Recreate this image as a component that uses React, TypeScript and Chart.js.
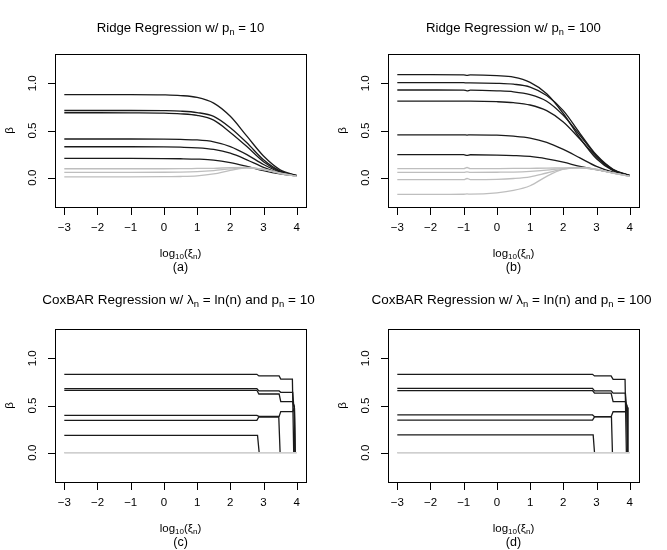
import React, { useEffect, useRef } from "react";
import { Chart, registerables } from "chart.js";

Chart.register(...registerables);

// ---------- axes ----------
const xTickValues = [-3, -2, -1, 0, 1, 2, 3, 4];
const yTickValues = [0, 0.5, 1.0];
const xLimits = [-3.28, 4.28];
const yLimits = [-0.31, 1.31];

// ---------- (a) Ridge, p = 10 ----------
const ridge10X = [-3, -2, -1, 0, 0.5, 1, 1.5, 2, 2.5, 3, 3.5, 4];
const r10b1 = [0.88, 0.88, 0.88, 0.877, 0.87, 0.85, 0.79, 0.65, 0.44, 0.23, 0.085, 0.025];
const r10b2 = [0.712, 0.712, 0.712, 0.71, 0.705, 0.69, 0.65, 0.53, 0.37, 0.19, 0.072, 0.022];
const r10b3 = [0.688, 0.688, 0.687, 0.684, 0.677, 0.66, 0.61, 0.48, 0.33, 0.17, 0.065, 0.02];
const r10b4 = [0.41, 0.41, 0.41, 0.408, 0.405, 0.4, 0.38, 0.33, 0.245, 0.14, 0.06, 0.022];
const r10b5 = [0.328, 0.328, 0.328, 0.326, 0.323, 0.317, 0.3, 0.26, 0.19, 0.11, 0.05, 0.02];
const r10b6 = [0.204, 0.204, 0.204, 0.203, 0.201, 0.197, 0.187, 0.16, 0.12, 0.075, 0.04, 0.018];
const r10g1 = [0.095, 0.095, 0.095, 0.095, 0.096, 0.098, 0.1, 0.106, 0.108, 0.085, 0.045, 0.015];
const r10g2 = [0.057, 0.057, 0.057, 0.058, 0.06, 0.065, 0.076, 0.093, 0.105, 0.087, 0.046, 0.015];
const r10g3 = [0.01, 0.01, 0.01, 0.011, 0.013, 0.02, 0.04, 0.078, 0.105, 0.09, 0.05, 0.015];

// ---------- (b) Ridge, p = 100 ----------
const ridge100X = [-3, -2, -1, -0.9, -0.8, 0, 0.5, 1, 1.5, 2, 2.5, 3, 3.5, 4];
const r100b1 = [1.092, 1.092, 1.09, 1.083, 1.089, 1.08, 1.065, 1.01, 0.89, 0.68, 0.42, 0.2, 0.075, 0.022];
const r100b2 = [1.007, 1.007, 1.006, 1.004, 1.005, 1.0, 0.99, 0.96, 0.87, 0.71, 0.47, 0.24, 0.09, 0.024];
const r100b3 = [0.929, 0.929, 0.928, 0.92, 0.927, 0.92, 0.91, 0.88, 0.81, 0.66, 0.45, 0.23, 0.085, 0.023];
const r100b4 = [0.812, 0.812, 0.811, 0.81, 0.81, 0.805, 0.795, 0.77, 0.71, 0.59, 0.41, 0.22, 0.08, 0.022];
const r100b5 = [0.454, 0.454, 0.454, 0.452, 0.454, 0.45, 0.44, 0.42, 0.375, 0.3, 0.21, 0.12, 0.058, 0.02];
const r100b6 = [0.244, 0.244, 0.244, 0.236, 0.243, 0.24, 0.235, 0.225, 0.2, 0.165, 0.12, 0.085, 0.052, 0.02];
const r100g1 = [0.096, 0.096, 0.096, 0.108, 0.096, 0.097, 0.098, 0.1, 0.101, 0.105, 0.106, 0.085, 0.05, 0.015];
const r100g2 = [0.057, 0.057, 0.057, 0.062, 0.057, 0.058, 0.06, 0.067, 0.08, 0.097, 0.105, 0.086, 0.05, 0.015];
const r100g3 = [-0.021, -0.021, -0.021, -0.008, -0.02, -0.017, -0.008, 0.01, 0.05, 0.09, 0.105, 0.088, 0.05, 0.015];
const r100g4 = [-0.177, -0.177, -0.175, -0.172, -0.174, -0.16, -0.135, -0.085, 0.015, 0.09, 0.11, 0.09, 0.05, 0.015];

// ---------- (c) CoxBAR, p = 10 ----------
const c10l1x = [-3, 2.8, 2.86, 3.47, 3.52, 3.87, 3.91];
const c10l1y = [0.83, 0.83, 0.813, 0.813, 0.78, 0.78, 0];
const c10l2x = [-3, 2.8, 2.86, 3.47, 3.52, 3.88, 3.91, 3.93, 3.95];
const c10l2y = [0.678, 0.678, 0.654, 0.654, 0.64, 0.64, 0.5, 0.48, 0];
const c10l3x = [-3, 2.8, 2.86, 3.47, 3.52, 3.88, 3.91, 3.93, 3.95];
const c10l3y = [0.661, 0.661, 0.622, 0.622, 0.54, 0.54, 0.5, 0.48, 0];
const c10l4x = [-3, 2.8, 2.86, 3.47, 3.52, 3.88, 3.91, 3.93, 3.95];
const c10l4y = [0.396, 0.396, 0.385, 0.385, 0.435, 0.435, 0.46, 0.48, 0];
const c10l5x = [-3, 2.8, 2.86, 3.46, 3.5];
const c10l5y = [0.343, 0.343, 0.378, 0.378, 0];
const c10l6x = [-3, 2.82, 2.87];
const c10l6y = [0.184, 0.184, 0];
const c10zeroX = [-3, 4];
const c10zeroY = [0, 0];

// ---------- (d) CoxBAR, p = 100 ----------
const c100l1x = [-3, 2.88, 2.94, 3.44, 3.5, 3.86, 3.9];
const c100l1y = [0.83, 0.83, 0.813, 0.813, 0.777, 0.777, 0];
const c100l2x = [-3, 2.88, 2.94, 3.44, 3.5, 3.87, 3.9, 3.92, 3.94];
const c100l2y = [0.682, 0.682, 0.655, 0.655, 0.63, 0.63, 0.5, 0.48, 0];
const c100l3x = [-3, 2.88, 2.94, 3.44, 3.5, 3.87, 3.9, 3.92, 3.94];
const c100l3y = [0.657, 0.657, 0.63, 0.63, 0.54, 0.54, 0.5, 0.48, 0];
const c100l4x = [-3, 2.88, 2.94, 3.44, 3.5, 3.87, 3.9, 3.92, 3.94];
const c100l4y = [0.4, 0.4, 0.382, 0.382, 0.434, 0.434, 0.46, 0.48, 0];
const c100l5x = [-3, 2.88, 2.94, 3.45, 3.48];
const c100l5y = [0.346, 0.346, 0.38, 0.38, 0];
const c100l6x = [-3, 2.9, 2.94];
const c100l6y = [0.188, 0.188, 0];
const c100zeroX = [-3, 4];
const c100zeroY = [0, 0];

// ---------- text ----------
type Part = [string, boolean];
const titleA: Part[] = [["Ridge Regression w/ p", false], ["n", true], [" = 10", false]];
const titleB: Part[] = [["Ridge Regression w/ p", false], ["n", true], [" = 100", false]];
const titleC: Part[] = [
  ["CoxBAR Regression w/ \u03bb", false], ["n", true], [" = ln(n) and p", false], ["n", true], [" = 10", false],
];
const titleD: Part[] = [
  ["CoxBAR Regression w/ \u03bb", false], ["n", true], [" = ln(n) and p", false], ["n", true], [" = 100", false],
];
const xLabel: Part[] = [["log", false], ["10", true], ["(\u03be", false], ["n", true], [")", false]];
const yLabel = "\u03b2";

const FONT = "'Liberation Sans', Arial, Helvetica, sans-serif";
const BLACK = "#1a1a1a";
const GRAY = "#bebebe";
const GRAY0 = "#cfcfcf";

type Line = { x: number[]; y: number[]; gray: boolean };
type Panel = { title: Part[]; titleBase: number; titleSize: number; titleShift: number; tag: string; smooth: boolean; lines: Line[] };

const zip = (x: number[], y: number[], gray: boolean): Line => ({ x, y, gray });

const panels: Panel[] = [
  {
    title: titleA, titleBase: 31.5, titleSize: 13.2, titleShift: 0, tag: "(a)", smooth: true,
    lines: [
      zip(ridge10X, r10g1, true), zip(ridge10X, r10g2, true), zip(ridge10X, r10g3, true),
      zip(ridge10X, r10b1, false), zip(ridge10X, r10b2, false), zip(ridge10X, r10b3, false),
      zip(ridge10X, r10b4, false), zip(ridge10X, r10b5, false), zip(ridge10X, r10b6, false),
    ],
  },
  {
    title: titleB, titleBase: 31.5, titleSize: 13.2, titleShift: 0, tag: "(b)", smooth: true,
    lines: [
      zip(ridge100X, r100g1, true), zip(ridge100X, r100g2, true), zip(ridge100X, r100g3, true), zip(ridge100X, r100g4, true),
      zip(ridge100X, r100b1, false), zip(ridge100X, r100b2, false), zip(ridge100X, r100b3, false),
      zip(ridge100X, r100b4, false), zip(ridge100X, r100b5, false), zip(ridge100X, r100b6, false),
    ],
  },
  {
    title: titleC, titleBase: 29, titleSize: 13.5, titleShift: -2, tag: "(c)", smooth: false,
    lines: [
      zip(c10zeroX, c10zeroY, true), zip(c10zeroX, c10zeroY, true), zip(c10zeroX, c10zeroY, true), zip(c10zeroX, c10zeroY, true),
      zip(c10l1x, c10l1y, false), zip(c10l2x, c10l2y, false), zip(c10l3x, c10l3y, false),
      zip(c10l4x, c10l4y, false), zip(c10l5x, c10l5y, false), zip(c10l6x, c10l6y, false),
    ],
  },
  {
    title: titleD, titleBase: 29, titleSize: 13.5, titleShift: -2, tag: "(d)", smooth: false,
    lines: [
      zip(c100zeroX, c100zeroY, true), zip(c100zeroX, c100zeroY, true), zip(c100zeroX, c100zeroY, true), zip(c100zeroX, c100zeroY, true),
      zip(c100l1x, c100l1y, false), zip(c100l2x, c100l2y, false), zip(c100l3x, c100l3y, false),
      zip(c100l4x, c100l4y, false), zip(c100l5x, c100l5y, false), zip(c100l6x, c100l6y, false),
    ],
  },
];

function drawRich(ctx: CanvasRenderingContext2D, parts: Part[], cx: number, base: number, size: number) {
  const sub = size * 0.7;
  const widths = parts.map(([t, s]) => {
    ctx.font = `${s ? sub : size}px ${FONT}`;
    return ctx.measureText(t).width;
  });
  const total = widths.reduce((a, b) => a + b, 0);
  let x = cx - total / 2;
  ctx.textAlign = "left";
  ctx.textBaseline = "alphabetic";
  parts.forEach(([t, s], i) => {
    ctx.font = `${s ? sub : size}px ${FONT}`;
    ctx.fillText(t, x, base + (s ? size * 0.24 : 0));
    x += widths[i];
  });
}

function PanelChart({ panel }: { panel: Panel }) {
  const ref = useRef<HTMLCanvasElement | null>(null);
  useEffect(() => {
    if (!ref.current) return;
    const decor = {
      id: "decor",
      afterDraw(chart: any) {
        const { ctx, chartArea: a } = chart;
        const xs = chart.scales.x;
        const ys = chart.scales.y;
        ctx.save();
        ctx.strokeStyle = "#000";
        ctx.fillStyle = "#000";
        ctx.lineWidth = 1;
        const L = Math.round(a.left);
        const T = Math.round(a.top);
        const R = Math.round(a.right);
        const B = Math.round(a.bottom);
        ctx.strokeRect(L + 0.5, T + 0.5, R - L, B - T);
        // tick marks at the library scale's tick positions
        for (const v of xTickValues) {
          const px = Math.round(xs.getPixelForValue(v));
          ctx.fillRect(px, B, 1, 8);
        }
        for (const v of yTickValues) {
          const py = Math.round(ys.getPixelForValue(v));
          ctx.fillRect(L - 7, py, 8, 1);
        }
        const cx = (a.left + a.right) / 2;
        drawRich(ctx, panel.title, cx + panel.titleShift, panel.titleBase, panel.titleSize);
        drawRich(ctx, xLabel, cx, 256.5, 11.5);
        ctx.font = `12.5px ${FONT}`;
        ctx.textAlign = "center";
        ctx.textBaseline = "alphabetic";
        ctx.fillText(panel.tag, cx, 271);
        ctx.save();
        ctx.translate(10, (a.top + a.bottom) / 2);
        ctx.rotate(-Math.PI / 2);
        ctx.font = `11.5px ${FONT}`;
        ctx.textAlign = "center";
        ctx.textBaseline = "middle";
        ctx.fillText(yLabel, 0, 0);
        ctx.restore();
        ctx.restore();
      },
    };
    const datasets = panel.lines.map((l) => ({
      data: l.x.map((xv, i) => ({ x: xv, y: l.y[i] })),
      borderColor: l.gray ? (panel.smooth ? GRAY : GRAY0) : BLACK,
      borderWidth: 1.3,
      pointRadius: 0,
      fill: false,
      tension: 0,
      cubicInterpolationMode: panel.smooth ? ("monotone" as const) : ("default" as const),
    }));
    const tickFont = { family: FONT, size: 11.5 };
    const chart = new Chart(ref.current, {
      type: "line",
      data: { datasets },
      options: {
        animation: false,
        responsive: false,
        events: [],
        layout: { padding: { left: 0, right: 27, top: 54, bottom: 0 } },
        plugins: { legend: { display: false }, tooltip: { enabled: false }, title: { display: false } },
        scales: {
          x: {
            type: "linear",
            min: xLimits[0],
            max: xLimits[1],
            afterBuildTicks: (s: any) => { s.ticks = xTickValues.map((v) => ({ value: v })); },
            afterFit: (s: any) => { s.height = 68; },
            grid: { display: false, tickLength: 8 },
            border: { display: false },
            ticks: {
              padding: 6,
              color: "#000",
              font: tickFont,
              maxRotation: 0,
              autoSkip: false,
              callback: (v: any) => (Number(v) < 0 ? "\u2212" + Math.abs(Number(v)) : String(v)),
            },
          },
          y: {
            type: "linear",
            min: yLimits[0],
            max: yLimits[1],
            afterBuildTicks: (s: any) => { s.ticks = yTickValues.map((v) => ({ value: v })); },
            afterFit: (s: any) => { s.width = 55; },
            grid: { display: false, tickLength: 8 },
            border: { display: false },
            ticks: {
              padding: 6,
              color: "#000",
              font: tickFont,
              minRotation: 90,
              maxRotation: 90,
              crossAlign: "center",
              autoSkip: false,
              callback: (v: any) => Number(v).toFixed(1),
            },
          },
        },
      },
      plugins: [decor],
    } as any);
    return () => chart.destroy();
  }, [panel]);
  return <canvas ref={ref} width={333} height={275} style={{ width: 333, height: 275, display: "block" }} />;
}

export default function App() {
  const pos = [
    { left: 0, top: 0 },
    { left: 333, top: 0 },
    { left: 0, top: 275 },
    { left: 333, top: 275 },
  ];
  return (
    <div style={{ position: "absolute", left: 0, top: 0, width: 667, height: 550, background: "#fff", overflow: "hidden" }}>
      {panels.map((p, i) => (
        <div key={i} style={{ position: "absolute", left: pos[i].left, top: pos[i].top, width: 333, height: 275 }}>
          <PanelChart panel={p} />
        </div>
      ))}
    </div>
  );
}
